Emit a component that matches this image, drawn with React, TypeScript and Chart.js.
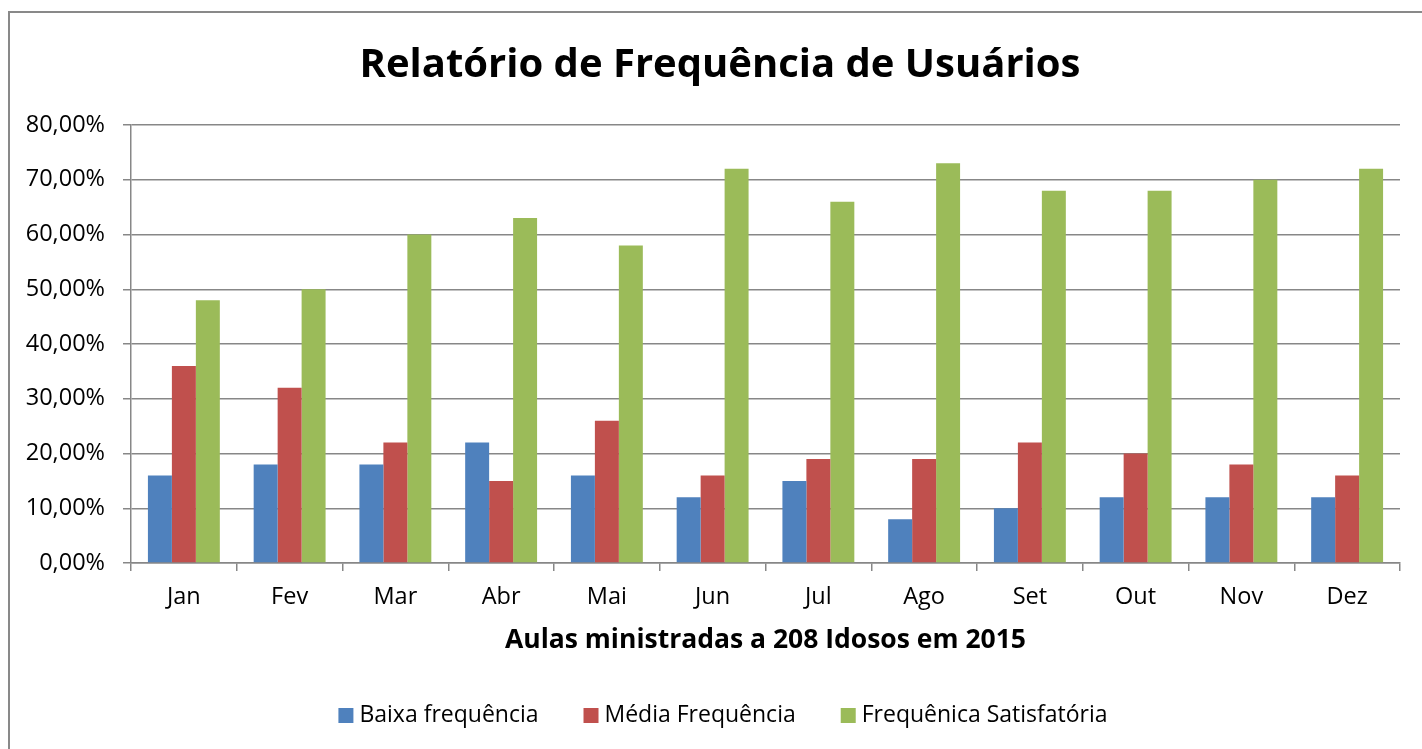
import React, { useEffect, useRef } from "react";
import { Chart, registerables } from "chart.js";

Chart.register(...registerables);

const months = ["Jan", "Fev", "Mar", "Abr", "Mai", "Jun", "Jul", "Ago", "Set", "Out", "Nov", "Dez"];
const baixa = [16, 18, 18, 22, 16, 12, 15, 8, 10, 12, 12, 12];
const media = [36, 32, 22, 15, 26, 16, 19, 19, 22, 20, 18, 16];
const satisfatoria = [48, 50, 60, 63, 58, 72, 66, 73, 68, 68, 70, 72];
const seriesNames = ["Baixa frequência", "Média Frequência", "Frequênica Satisfatória"];
const seriesColors = ["#4F81BD", "#C0504D", "#9BBB59"];
const chartTitle = "Relatório de Frequência de Usuários";
const xTitle = "Aulas ministradas a 208 Idosos em 2015";

const FONT = "'Open Sans', sans-serif";
const GRID = "#878787";

const legendPlugin = {
  id: "excelLegend",
  afterDraw(chart: any) {
    const ctx = chart.ctx;
    const box = 15;
    const gap = 6;
    const spacing = 45;
    const y = 715;
    ctx.save();
    ctx.font = `23px ${FONT}`;
    ctx.textBaseline = "middle";
    ctx.textAlign = "left";
    const items = chart.data.datasets.map((d: any) => ({
      text: d.label as string,
      color: d.backgroundColor as string,
      w: ctx.measureText(d.label).width,
    }));
    const total =
      items.reduce((a: number, it: any) => a + box + gap + it.w, 0) + spacing * (items.length - 1);
    let x = chart.width / 2 + 12 - total / 2;
    items.forEach((it: any) => {
      ctx.fillStyle = it.color;
      ctx.fillRect(x, y - box / 2 + 0.5, box, box);
      ctx.fillStyle = "#000";
      ctx.fillText(it.text, x + box + gap, y);
      x += box + gap + it.w + spacing;
    });
    ctx.restore();
  },
};

export default function App() {
  const ref = useRef<HTMLCanvasElement | null>(null);
  useEffect(() => {
    if (!ref.current) return;
    const chart = new Chart(ref.current, {
      type: "bar",
      data: {
        labels: months,
        datasets: [
          { label: seriesNames[0], data: baixa, backgroundColor: seriesColors[0] },
          { label: seriesNames[1], data: media, backgroundColor: seriesColors[1] },
          { label: seriesNames[2], data: satisfatoria, backgroundColor: seriesColors[2] },
        ],
      },
      plugins: [legendPlugin],
      options: {
        responsive: false,
        animation: false,
        layout: { padding: { left: 18, right: 0, top: 0, bottom: 93 } },
        datasets: { bar: { categoryPercentage: 0.68, barPercentage: 1 } },
        plugins: {
          tooltip: { enabled: false },
          legend: { display: false },
          title: {
            display: true,
            text: chartTitle,
            color: "#000",
            font: { family: FONT, size: 40, weight: "bold" },
            padding: { top: 42, bottom: 35 },
          },
        },
        scales: {
          x: {
            grid: { drawOnChartArea: false, color: GRID, tickLength: 8, lineWidth: 1.5 },
            border: { color: GRID, width: 1.5 },
            ticks: { color: "#000", font: { family: FONT, size: 23.5 }, padding: 12 },
            title: {
              display: true,
              text: xTitle,
              color: "#000",
              font: { family: FONT, size: 26.5, weight: "bold" },
              padding: { top: 1, bottom: 0 },
            },
          },
          y: {
            min: 0,
            max: 80,
            afterFit: (s: any) => {
              s.width = 113;
            },
            grid: { color: GRID, tickLength: 8, lineWidth: 1.5 },
            border: { color: GRID, width: 1.5 },
            ticks: {
              stepSize: 10,
              color: "#000",
              padding: 18,
              font: { family: FONT, size: 23.5 },
              callback: (v: any) => Number(v).toFixed(2).replace(".", ",") + "%",
            },
          },
          yRight: {
            type: "linear",
            position: "right",
            display: true,
            grid: { display: false, drawTicks: false },
            border: { display: false },
            ticks: { display: false },
            afterFit: (s: any) => {
              s.width = 22;
            },
          },
        },
      },
    });
    return () => chart.destroy();
  }, []);
  return (
    <div style={{ position: "absolute", left: 0, top: 0, width: 1422, height: 749, overflow: "hidden", background: "#fff" }}>
      <div style={{ position: "absolute", left: 8, top: 11, width: 1500, height: 900, border: "2px solid #898989" }} />
      <canvas ref={ref} width={1422} height={749} style={{ position: "absolute", left: 0, top: 0, width: 1422, height: 749 }} />
    </div>
  );
}
